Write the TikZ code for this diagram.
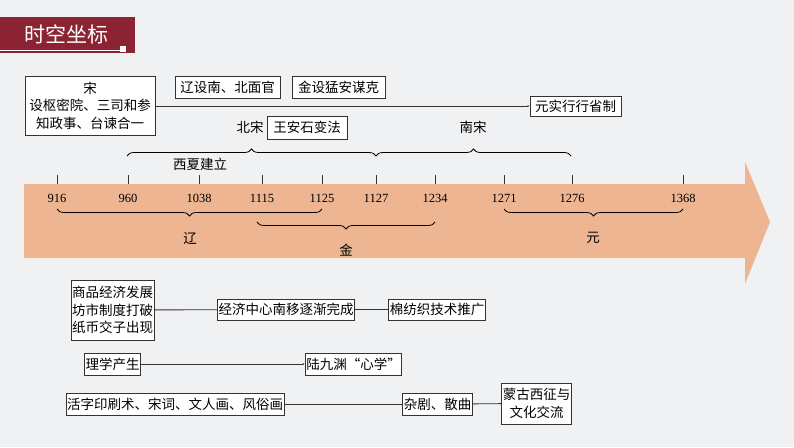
\documentclass[tikz,border=0pt]{standalone}
\usepackage{fontspec}
\setmainfont{Liberation Serif}
\newfontfamily\cjk{Noto Sans CJK SC}
\usetikzlibrary{decorations.pathreplacing}
\usetikzlibrary{arrows.meta}
\definecolor{bgcol}{HTML}{F0F1F3}
\definecolor{bandcol}{HTML}{EDB592}
\definecolor{titlecol}{HTML}{8B2332}
\definecolor{inkcol}{HTML}{333333}
\tikzstyle{event}=[draw=inkcol, line width=0.9pt, fill=white, inner sep=1pt, font=\cjk\fontsize{13.5}{17.5}\selectfont, align=center]
\tikzstyle{tag}=[inner sep=0, font=\cjk\fontsize{13.5}{16}\selectfont]
\tikzstyle{year}=[inner sep=0, font=\fontsize{12.5}{14}\selectfont]
\tikzstyle{link}=[draw=inkcol, line width=0.9pt]
\tikzstyle{era}=[draw=black, line width=0.8pt, decorate, decoration={brace, amplitude=7pt}]
\tikzstyle{timeline}=[x=1pt, y=-1pt,
                      % Background and fixed page size.
                      execute at begin picture={\fill[bgcol] (0,0) rectangle (794,447);}]
\begin{document}
\begin{tikzpicture}[timeline]
    \useasboundingbox (0,0) rectangle (794,447);
    % Title bar.
    \fill[titlecol] (0,17) rectangle (135,53);
    \draw[white, line width=0.6pt] (0,50) -- (120,50);
    \fill[white] (120,46) rectangle (126,52);
    \node[tag, text=white, font=\cjk\fontsize{21}{24}\selectfont] (title) at (66,34) {时空坐标};
    % Band with arrow head.
    \fill[bandcol] (24,184) -- (745,184) -- (745,162) -- (770,222) -- (745,284) -- (745,258) -- (24,258) -- cycle;
    % Year ticks.
    \foreach \x/\y in {57/916, 128/960, 199/1038, 262/1115, 322/1125, 376/1127, 435/1234, 504/1271, 572/1276, 683/1368} {
        \draw[inkcol, line width=0.8pt] (\x,175) -- (\x,184);
        \node[year] (y\y) at (\x,198) {\y};
    }
    % Dynasty braces.
    \draw[era] (127,156) -- (376,156);
    \draw[era] (376,156) -- (571,156);
    \node[tag] (beisong) at (250,127) {北宋};
    \node[tag] (nansong) at (473,127) {南宋};
    \node[tag] (xixia) at (200,164) {西夏建立};
    \draw[era] (322,209) -- (57,209);
    \draw[era] (435,222) -- (257,222);
    \draw[era] (683,209) -- (504,209);
    \node[tag] (liao) at (190,239) {辽};
    \node[tag] (jin) at (346,250) {金};
    \node[tag] (yuan) at (593,238) {元};
    % Upper events.
    \node[event, minimum width=130pt, minimum height=59pt] (song) at (90,105.5) {宋\\设枢密院、三司和参\\知政事、台谏合一};
    \node[event, minimum width=105pt, minimum height=22pt] (liaoguan) at (227.5,87) {辽设南、北面官};
    \node[event, minimum width=93pt, minimum height=22pt] (menggan) at (338.5,87) {金设猛安谋克};
    \node[event, minimum width=91pt, minimum height=20pt] (xingsheng) at (575.5,106) {元实行行省制};
    \node[event, minimum width=80pt, minimum height=23pt] (bianfa) at (307,127.5) {王安石变法};
    \draw[link, -{Latex[length=2pt, width=2pt]}] (song.east |- xingsheng) -- (xingsheng);
    % Lower events.
    \node[event, minimum width=75pt, minimum height=60pt] (shangpin) at (112.5,310) {商品经济发展\\坊市制度打破\\纸币交子出现};
    \node[event, minimum width=114pt, minimum height=21pt] (nanyi) at (286,309.5) {经济中心南移逐渐完成};
    \node[event, minimum width=84pt, minimum height=21pt] (mianfang) at (437,309.5) {棉纺织技术推广};
    \node[event, minimum width=53pt, minimum height=22pt] (lixue) at (112.5,364) {理学产生};
    \node[event, minimum width=83pt, minimum height=22pt] (xinxue) at (353.5,364) {陆九渊“心学”};
    \node[event, minimum width=178pt, minimum height=22pt] (huozi) at (175,404) {活字印刷术、宋词、文人画、风俗画};
    \node[event, minimum width=63pt, minimum height=22pt] (zaju) at (437.5,404) {杂剧、散曲};
    \node[event, minimum width=62pt, minimum height=41pt] (xizheng) at (536.5,403.5) {蒙古西征与\\文化交流};
    \draw[link] (shangpin) -- (nanyi);
    \draw[link] (nanyi) -- (mianfang);
    \draw[link, -{Latex[length=2pt, width=2pt]}] (lixue) -- (xinxue);
    \draw[link] (huozi) -- (zaju);
    \draw[link] (zaju) -- (xizheng);
\end{tikzpicture}
\end{document}
